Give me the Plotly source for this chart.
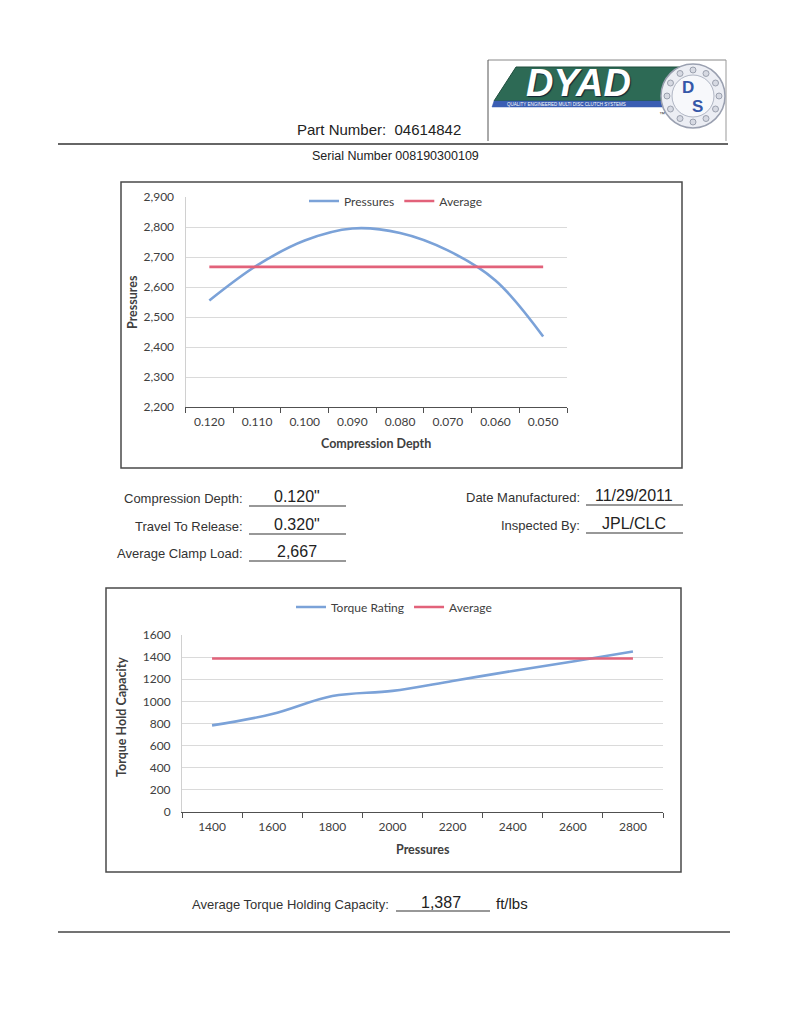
import math
import plotly.graph_objects as go

W, H = 788, 1023
OFF = 8                     # page body margin of the html
FW, FH = W - 2 * OFF, H - 2 * OFF

# ---------------- data ----------------
depth_labels = ["0.120", "0.110", "0.100", "0.090", "0.080", "0.070", "0.060", "0.050"]
pressures = [2555, 2672, 2755, 2795, 2780, 2722, 2622, 2435]
avg_pressure = 2667

pressure_labels = ["1400", "1600", "1800", "2000", "2200", "2400", "2600", "2800"]
torque = [783, 885, 1048, 1095, 1185, 1275, 1360, 1450]
avg_torque = 1387

part_number = "04614842"
serial_number = "008190300109"
form_left = [("Compression Depth:", '0.120"'), ("Travel To Release:", '0.320"'), ("Average Clamp Load:", "2,667")]
form_right = [("Date Manufactured:", "11/29/2011"), ("Inspected By:", "JPL/CLC")]
torque_capacity = "1,387"

# ---------------- helpers ----------------
def px(x):
    return (x - OFF) / FW

def py(y):
    return 1 - (y - OFF) / FH

BLUE = "#7ba2d8"
RED = "#e2627a"
CHART_TXT = "#404040"
CAL = "Lato, Carlito, Calibri, sans-serif"
ARIAL = "Liberation Sans, Arial, sans-serif"

fig = go.Figure()

fig.add_trace(go.Scatter(x=depth_labels, y=pressures, mode="lines", name="Pressures",
                         line=dict(color=BLUE, width=2.6, shape="spline", smoothing=1.0),
                         xaxis="x", yaxis="y", legend="legend"))
fig.add_trace(go.Scatter(x=depth_labels, y=[avg_pressure] * len(depth_labels), mode="lines", name="Average",
                         line=dict(color=RED, width=2.6),
                         xaxis="x", yaxis="y", legend="legend"))

fig.add_trace(go.Scatter(x=pressure_labels, y=torque, mode="lines", name="Torque Rating",
                         line=dict(color=BLUE, width=2.6, shape="spline", smoothing=1.0),
                         xaxis="x2", yaxis="y2", legend="legend2"))
fig.add_trace(go.Scatter(x=pressure_labels, y=[avg_torque] * len(pressure_labels), mode="lines", name="Average",
                         line=dict(color=RED, width=2.6),
                         xaxis="x2", yaxis="y2", legend="legend2"))

tickfont = dict(family=CAL, size=12, color=CHART_TXT)

xcommon = dict(type="category", tickson="boundaries", ticks="outside", ticklen=5, tickwidth=1,
               tickcolor="#505050", showline=True, linecolor="#505050", linewidth=1.3,
               showgrid=False, zeroline=False, tickfont=tickfont, fixedrange=True,
               automargin=False, ticklabelstandoff=3)
ycommon = dict(showgrid=True, gridcolor="#dadada", gridwidth=1, showline=True, linecolor="#d0d0d0",
               linewidth=1, zeroline=False, ticks="", tickfont=tickfont, fixedrange=True,
               ticklabelstandoff=8, automargin=False)

fig.update_layout(
    width=FW, height=FH,
    margin=dict(l=0, r=0, t=0, b=0, pad=0, autoexpand=False),
    paper_bgcolor="white", plot_bgcolor="white",
    xaxis=dict(domain=[px(185.5), px(567)], anchor="y", range=[-0.5, len(depth_labels) - 0.5], **xcommon),
    yaxis=dict(domain=[py(407), py(197)], anchor="x", range=[2200, 2900], dtick=100,
               tickformat=",", **ycommon),
    xaxis2=dict(domain=[px(182), px(663)], anchor="y2", range=[-0.5, len(pressure_labels) - 0.5], **xcommon),
    yaxis2=dict(domain=[py(812), py(635)], anchor="x2", range=[0, 1600], dtick=200,
                tickformat="d", **ycommon),
    legend=dict(orientation="h", x=px(396), y=py(201), xanchor="center", yanchor="middle",
                font=dict(family=CAL, size=12, color=CHART_TXT), bgcolor="rgba(0,0,0,0)",
                itemwidth=30, tracegroupgap=0),
    legend2=dict(orientation="h", x=px(394), y=py(607), xanchor="center", yanchor="middle",
                 font=dict(family=CAL, size=12, color=CHART_TXT), bgcolor="rgba(0,0,0,0)",
                 itemwidth=30, tracegroupgap=0),
    showlegend=True,
)

shapes = []
annotations = []

def line(x0, y0, x1, y1, color="#444", width=1.3):
    shapes.append(dict(type="line", xref="paper", yref="paper", x0=px(x0), y0=py(y0),
                       x1=px(x1), y1=py(y1), line=dict(color=color, width=width)))

def text(x, y, s, size=13, color="#333", family=ARIAL, xanchor="center", angle=0, **kw):
    annotations.append(dict(x=px(x), y=py(y), xref="paper", yref="paper", text=s, showarrow=False,
                            xanchor=xanchor, yanchor="middle", textangle=angle,
                            font=dict(size=size, color=color, family=family, **kw)))

# chart frames
shapes.append(dict(type="rect", xref="paper", yref="paper", x0=px(121), y0=py(468), x1=px(682), y1=py(182),
                   line=dict(color="#4a4a4a", width=1.5)))
shapes.append(dict(type="rect", xref="paper", yref="paper", x0=px(106), y0=py(872), x1=px(681), y1=py(588),
                   line=dict(color="#4a4a4a", width=1.5)))

# axis titles
text(376, 443, "<b>Compression Depth</b>", size=12.5, color=CHART_TXT, family=CAL)
text(132, 302, "<b>Pressures</b>", size=12.5, color=CHART_TXT, family=CAL, angle=-90)
text(423, 849, "<b>Pressures</b>", size=12.5, color=CHART_TXT, family=CAL)
text(121, 717, "<b>Torque Hold Capacity</b>", size=12.5, color=CHART_TXT, family=CAL, angle=-90)

# header
line(58, 144, 728, 144, color="#333", width=1.5)
line(488, 60, 726, 60, color="#888", width=1)
line(488, 60, 488, 141, color="#555", width=1)
line(726, 60, 726, 141, color="#999", width=1)
text(379, 130, "Part Number:&nbsp;&nbsp;" + part_number, size=15, color="#222")
text(395, 156, "Serial Number " + serial_number, size=12.5, color="#222")

# logo
shapes.append(dict(type="path", xref="paper", yref="paper",
                   path="M {} {} L {} {} L {} {} L {} {} Z".format(px(516), py(67), px(706), py(67),
                                                                    px(690), py(101), px(494), py(101)),
                   fillcolor="#2d6a55", line=dict(color="#1f4d3d", width=1)))
shapes.append(dict(type="path", xref="paper", yref="paper",
                   path="M {} {} L {} {} L {} {} L {} {} Z".format(px(494), py(101), px(690), py(101),
                                                                    px(688), py(107), px(492), py(107)),
                   fillcolor="#3a5db3", line=dict(color="#3a5db3", width=0.5)))
text(578, 83, "<b><i>DYAD</i></b>", size=38, color="white", family="Liberation Sans, Arial",
     shadow="1px 1px 1px #123")
text(566, 104.5, "QUALITY ENGINEERED MULTI DISC CLUTCH SYSTEMS", size=4.5, color="white")
cx, cy, r = 693, 96, 32
shapes.append(dict(type="circle", xref="paper", yref="paper", x0=px(cx - r), y0=py(cy + r),
                   x1=px(cx + r), y1=py(cy - r), fillcolor="#eceef4", line=dict(color="#9aa0b0", width=1.5)))
shapes.append(dict(type="circle", xref="paper", yref="paper", x0=px(cx - 21), y0=py(cy + 21),
                   x1=px(cx + 21), y1=py(cy - 21), fillcolor="#f7f8fb", line=dict(color="#b0b6c4", width=1)))
for k in range(12):
    a = 2 * math.pi * k / 12
    dx, dy = cx + 26 * math.cos(a), cy + 26 * math.sin(a)
    shapes.append(dict(type="circle", xref="paper", yref="paper", x0=px(dx - 3), y0=py(dy + 3),
                       x1=px(dx + 3), y1=py(dy - 3), fillcolor="#d6d9e2", line=dict(color="#8a90a0", width=0.8)))
text(688, 87, "<b>D</b>", size=17, color="#3557a8")
text(697, 106, "<b>S</b>", size=17, color="#3557a8")
text(662, 114, "™", size=6, color="#333")

# form fields
ys_left = [498, 526, 553]
for (lab, val), yy in zip(form_left, ys_left):
    text(245, yy, lab, size=13, color="#333", xanchor="right")
    text(297, yy - 2, val, size=16, color="#222")
    line(249, yy + 8, 346, yy + 8, color="#333", width=1.2)
ys_right = [497, 525]
for (lab, val), yy in zip(form_right, ys_right):
    text(582, yy, lab, size=13, color="#333", xanchor="right")
    text(634, yy - 2, val, size=16, color="#222")
    line(586, yy + 8, 683, yy + 8, color="#333", width=1.2)

# bottom
text(391, 904, "Average Torque Holding Capacity:", size=13, color="#333", xanchor="right")
text(441, 902, torque_capacity, size=16, color="#222")
line(396, 911, 490, 911, color="#333", width=1.2)
text(494, 903, "ft/lbs", size=15, color="#222", xanchor="left")
line(58, 932, 730, 932, color="#444", width=1.5)

fig.update_layout(shapes=shapes, annotations=annotations)
fig.write_html("out.html")
